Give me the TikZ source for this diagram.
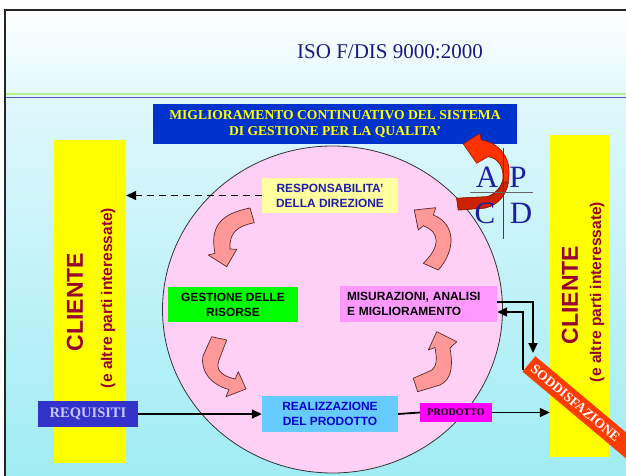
\documentclass[tikz,border=0pt]{standalone}
\usepackage{fontspec}
\setmainfont{Liberation Serif}
\setsansfont{Liberation Sans}
\usetikzlibrary{arrows.meta,calc,shapes.geometric}
\definecolor{headbot}{RGB}{226,249,252}
\definecolor{bodytop}{RGB}{224,248,251}
\definecolor{bodybot}{RGB}{160,236,245}
\definecolor{greenline}{RGB}{180,240,140}
\definecolor{blueline}{RGB}{90,90,180}
\definecolor{titlenavy}{RGB}{26,26,128}
\definecolor{bannerblue}{RGB}{0,51,204}
\definecolor{pinkfill}{RGB}{255,208,245}
\definecolor{lightyel}{RGB}{255,255,160}
\definecolor{respblue}{RGB}{30,30,170}
\definecolor{misfill}{RGB}{255,153,255}
\definecolor{realfill}{RGB}{102,204,255}
\definecolor{realtext}{RGB}{0,0,204}
\definecolor{reqfill}{RGB}{51,51,204}
\definecolor{reqtext}{RGB}{200,200,250}
\definecolor{cliered}{RGB}{153,0,51}
\definecolor{salmon}{RGB}{255,153,153}
\definecolor{salmonedge}{RGB}{90,40,40}
\definecolor{soddfill}{RGB}{255,60,0}
\definecolor{prodfill}{RGB}{255,0,255}
\definecolor{pureyel}{RGB}{255,255,0}
\definecolor{puregreen}{RGB}{0,255,0}
\definecolor{apcdred}{RGB}{255,51,0}
\definecolor{apcddark}{RGB}{204,34,0}
\definecolor{apcdblue}{RGB}{30,30,160}
\begin{document}
\begin{tikzpicture}[x=1pt,y=-1pt,
  box/.style={inner sep=0pt, align=center, font=\sffamily\bfseries\fontsize{11.9}{15}\selectfont},
  clibig/.style={rotate=90, text=cliered, inner sep=0pt, font=\sffamily\bfseries\fontsize{23}{26}\selectfont},
  clismall/.style={rotate=90, text=cliered, inner sep=0pt, font=\sffamily\bfseries\fontsize{15.5}{18}\selectfont},
  yelbar/.style={fill=pureyel, inner sep=0pt},
  curv/.style={fill=salmon, draw=salmonedge, line width=0.7pt, line join=round},
  flow/.style={line width=1.8pt, -{Triangle[length=10pt,width=9pt]}},
  plain/.style={line width=1.8pt},
  dasharrow/.style={line width=1.6pt, dash pattern=on 7pt off 5pt, -{Triangle[length=10pt,width=9pt]}},
  letter/.style={text=apcdblue, inner sep=0pt, font=\rmfamily\fontsize{31}{34}\selectfont}
]
\useasboundingbox (0,0) rectangle (626,476);
\clip (0,0) rectangle (626,476);
\fill[white] (0,0) rectangle (626,476);
% backgrounds
\shade[top color=white, bottom color=headbot] (5,10) rectangle (640,94);
\shade[top color=bodytop, bottom color=bodybot] (5,94) rectangle (640,476);
\draw[greenline, line width=2pt] (5,94) -- (640,94);
\draw[blueline, line width=0.8pt] (5,97) -- (640,97);
\draw[black!85, line width=2.5pt] (5,480) -- (5,10) -- (640,10);

% title
\node[text=titlenavy, inner sep=0pt, font=\rmfamily\fontsize{21}{24}\selectfont] (title) at (390,52) {ISO F/DIS 9000:2000};

% banner
\node[fill=bannerblue, text=pureyel, minimum width=364pt, minimum height=40pt, inner sep=0pt, align=center,
      font=\rmfamily\bfseries\fontsize{13.6}{16}\selectfont] (banner) at (335,124)
      {MIGLIORAMENTO CONTINUATIVO DEL SISTEMA\\DI GESTIONE PER LA QUALITA’};

% client bars
\node[yelbar, minimum width=72pt, minimum height=323pt] (lcli) at (90,301.5) {};
\node[yelbar, minimum width=60pt, minimum height=322pt] (rcli) at (580,296) {};
\node[clibig] (lcl1) at (75,302) {CLIENTE};
\node[clismall] (lcl2) at (108,298) {(e altre parti interessate)};
\node[clibig] (rcl1) at (570,295) {CLIENTE};
\node[clismall] (rcl2) at (597,292) {(e altre parti interessate)};

% circle
\node[ellipse, draw=black!80, line width=0.8pt, fill=pinkfill, minimum width=340pt, minimum height=327pt, inner sep=0pt] (circ) at (332.5,309.5) {};

% boxes
\node[box, fill=lightyel, text=respblue, minimum width=136pt, minimum height=35pt] (resp) at (330,195.5) {RESPONSABILITA’\\DELLA DIREZIONE};
\node[box, fill=puregreen, text=black, minimum width=130pt, minimum height=35pt] (gest) at (233,304.5) {GESTIONE DELLE\\RISORSE};
\node[box, fill=misfill, text=black, minimum height=36pt, text width=143pt, inner xsep=7pt, align=left] (mis) at (418.5,304) {MISURAZIONI, ANALISI\\E MIGLIORAMENTO};
\node[box, fill=realfill, text=realtext, minimum width=136pt, minimum height=36pt] (real) at (330,414) {REALIZZAZIONE\\DEL PRODOTTO};
\node[fill=prodfill, minimum width=72pt, minimum height=19pt, inner sep=0pt, font=\rmfamily\bfseries\fontsize{10}{12}\selectfont] (prod) at (456,412.5) {PRODOTTO};
\node[fill=reqfill, text=reqtext, minimum width=100pt, minimum height=26pt, inner sep=0pt, font=\rmfamily\bfseries\fontsize{14.5}{16}\selectfont] (req) at (88,414) {REQUISITI};

% soddisfazione
\node[fill=soddfill, text=white, anchor=west, rotate=-40, minimum height=20pt, text width=142pt, inner xsep=5pt, inner ysep=0pt, align=left,
      font=\rmfamily\bfseries\fontsize{13.6}{15}\selectfont] (sodd) at (528.8,363.8) {SODDISFAZIONE};

% salmon cycle arrows
\path[curv] (250,208) -- (254.3,222.7) .. controls (238,226) and (229,232) .. (230,249) -- (236.7,249.3) -- (226.7,266.7) -- (208.3,255) -- (215,253.3) .. controls (210,228) and (219,214) .. (250,208) -- cycle;
\path[curv] (423.3,263.3) -- (438.3,270) .. controls (456,250) and (456,224) .. (433.3,215) -- (435.7,207.7) -- (414.3,210) -- (418.3,230) -- (423.3,225.7) .. controls (441,233) and (440,247) .. (423.3,263.3) -- cycle;
\path[curv] (211.7,336.7) -- (226.7,340) -- (219,360) .. controls (215,370) and (222,376) .. (235,379) -- (238.3,371.7) -- (246,389) -- (226,396.7) -- (229,389.5) .. controls (212,385) and (200,372) .. (203,356) -- cycle;
\path[curv] (413.3,378.3) -- (417.7,391.7) -- (440,385) .. controls (452,379) and (453,366) .. (450,348) -- (456.7,341.7) -- (436.7,331.7) -- (428.3,350) -- (435,347.5) .. controls (437,358) and (437,366) .. (432,370) -- cycle;

% connectors
\draw[flow] (req.east) -- (real.west);
\draw[plain] (real.east) -- (prod.west);
\draw[flow] (prod.east) -- (prod.east -| rcli.west);
\draw[dasharrow] (resp.west) -- (resp.west -| lcli.east);
\coordinate (sA) at (533,353);
\coordinate (sB) at (523,370);
\draw[flow] ($(mis.east)+(0,-2)$) -| (sA);
\draw[flow] (sB) |- ($(mis.east)+(0,8)$);

% PDCA arrow
\path[fill=apcdred, draw=apcddark!70!black, line width=0.6pt, line join=round]
  (463.3,144) -- (480,133.3) -- (481,140) .. controls (500,143) and (510,158) .. (509,173)
  .. controls (509,190) and (500,205) .. (485,208) -- (458.3,210) -- (456.7,198.3) -- (488,196.7)
  .. controls (498,192) and (503,184) .. (503,176.7) .. controls (503,165) and (497,158) .. (488,156.7)
  -- (476.7,163.3) -- cycle;
\path[fill=apcddark, draw=apcddark!70!black, line width=0.6pt, line join=round]
  (458.3,210) -- (456.7,198.3) -- (488,196.7) .. controls (496,193) and (501,188) .. (503,182)
  -- (508.6,182) .. controls (506,196) and (498,205) .. (485,208) -- cycle;
\node[letter] (lA) at (487,177) {A};
\node[letter] (lP) at (518,177) {P};
\node[letter] (lC) at (485,213) {C};
\node[letter] (lD) at (521,213) {D};
\draw[black!75, line width=0.8pt] (503,148) -- (503,239);
\draw[black!60, line width=0.8pt] (470,192) -- (533,192);
\end{tikzpicture}
\end{document}
